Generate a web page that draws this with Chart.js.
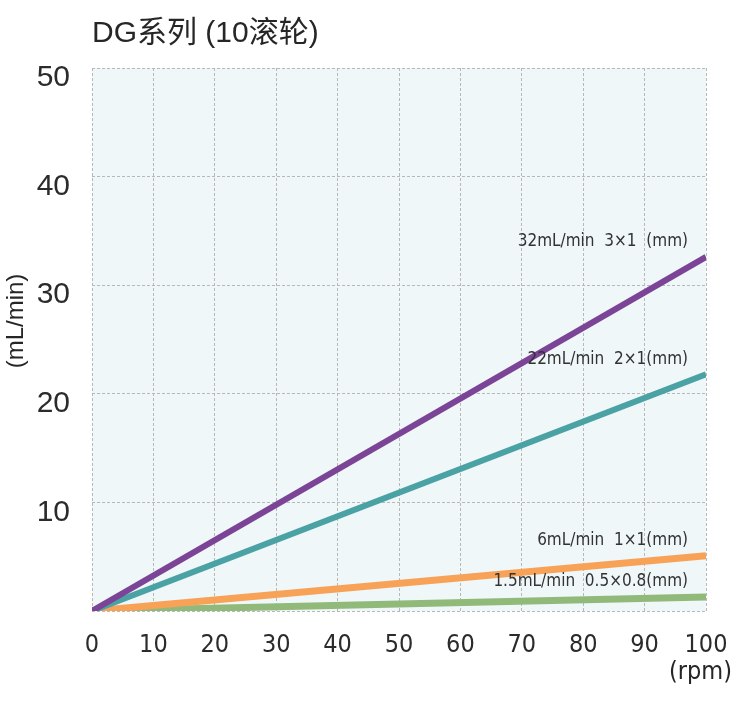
<!DOCTYPE html>
<html>
<head>
<meta charset="utf-8">
<script src="https://cdn.jsdelivr.net/npm/chart.js@4.4.1/dist/chart.umd.min.js"></script>
<style>
html,body{margin:0;padding:0;background:#fff;}
#wrap{width:750px;height:714px;position:relative;}
</style>
</head>
<body>
<div id="wrap"><canvas id="c" width="750" height="714"></canvas></div>
<script>
// ---- data ----
const rpm = [0, 100];
const flow32 = [0, 32.6];
const flow22 = [0, 21.8];
const flow6 = [0, 5.1];
const flow15 = [0, 1.3];
const seriesLabels = ['32mL/min  3\u00D71  (mm)', '22mL/min  2\u00D71(mm)', '6mL/min  1\u00D71(mm)', '1.5mL/min  0.5\u00D70.8(mm)'];
const xTicks = [0,10,20,30,40,50,60,70,80,90,100];
const yTicks = [0,10,20,30,40,50];
const chartTitle = 'DG系列 (10滚轮)';
const yTitle = '(mL/min)';
const xTitle = '(rpm)';

const colors = ['#7b4496', '#4aa2a4', '#f7a257', '#91b97a'];
const NARROW = '"Liberation Sans Narrow","DejaVu Sans Condensed","Roboto Condensed","Liberation Sans",Arial,sans-serif';
const REG = '"Liberation Sans",Arial,"Noto Sans CJK SC",sans-serif';

function pts(ys){ return rpm.map((x,i)=>({x:x,y:ys[i]})); }

const decor = {
  id:'decor',
  beforeDraw(chart){
    const {ctx, chartArea:a} = chart;
    ctx.save();
    ctx.fillStyle = '#eff7f9';
    ctx.fillRect(a.left, a.top, a.right-a.left, a.bottom-a.top);
    ctx.restore();
  },
  afterDraw(chart){
    const {ctx, chartArea:a} = chart;
    ctx.save();
    // title
    ctx.fillStyle = '#262626';
    ctx.font = '30px ' + REG;
    ctx.textAlign = 'left'; ctx.textBaseline = 'middle';
    ctx.fillText(chartTitle, 92, 34);
    // y title
    ctx.save();
    ctx.translate(16, 321);
    ctx.rotate(-Math.PI/2);
    ctx.font = '24px ' + REG;
    ctx.textAlign = 'center';
    ctx.fillText(yTitle, 0, 0);
    ctx.restore();
    // x title
    ctx.font = '25px ' + NARROW;
    ctx.textAlign = 'right';
    ctx.fillText(xTitle, 732, 672);
    // series labels near line ends
    ctx.font = '17px ' + NARROW;
    ctx.fillStyle = '#333';
    ctx.textAlign = 'right'; ctx.textBaseline = 'middle';
    chart.data.datasets.forEach((ds, i) => {
      const meta = chart.getDatasetMeta(i);
      const last = meta.data[meta.data.length-1];
      ctx.fillText(seriesLabels[i], last.x - 18, last.y - 15);
    });
    ctx.restore();
  }
};

new Chart(document.getElementById('c'), {
  type:'line',
  data:{
    datasets:[
      {data:pts(flow32), borderColor:colors[0], borderWidth:6},
      {data:pts(flow22), borderColor:colors[1], borderWidth:6},
      {data:pts(flow6), borderColor:colors[2], borderWidth:7},
      {data:pts(flow15), borderColor:colors[3], borderWidth:7}
    ].map(d=>Object.assign(d,{pointRadius:0, fill:false, tension:0, borderCapStyle:'butt'}))
  },
  options:{
    responsive:false,
    animation:false,
    devicePixelRatio:1,
    layout:{padding:{left:0, right:44, top:68, bottom:0}},
    plugins:{legend:{display:false}, title:{display:false}, tooltip:{enabled:false}},
    scales:{
      x:{
        type:'linear', min:0, max:100,
        afterBuildTicks(s){ s.ticks = xTicks.map(v=>({value:v})); },
        afterFit(s){ s.height = 103; },
        grid:{color:'#b8b8b8', lineWidth:1, drawTicks:false},
        border:{display:false, dash:[3,2]},
        ticks:{font:{family:NARROW, size:25}, color:'#2b2b2b', padding:19, maxRotation:0, autoSkip:false}
      },
      y:{
        type:'linear', min:0, max:50,
        afterBuildTicks(s){ s.ticks = yTicks.map(v=>({value:v})); },
        afterFit(s){ s.width = 92; },
        grid:{color:'#b8b8b8', lineWidth:1, drawTicks:false},
        border:{display:false, dash:[3,2]},
        ticks:{font:{family:REG, size:30}, color:'#2b2b2b', padding:22, labelOffset:10,
          callback:(v)=> v===0 ? '' : String(v)}
      }
    }
  },
  plugins:[decor]
});
</script>
</body>
</html>
